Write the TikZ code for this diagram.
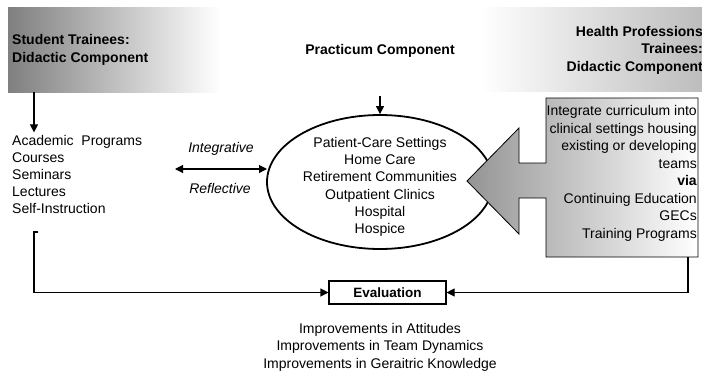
\documentclass[tikz,border=0pt]{standalone}
\usepackage{fontspec}
\setmainfont{Liberation Sans}
\usetikzlibrary{arrows.meta,shapes.geometric}
\begin{document}
\begin{tikzpicture}[x=1pt,y=-1pt,
  txt/.style={inner sep=0pt, font=\fontsize{14}{17}\selectfont},
  bld/.style={inner sep=0pt, font=\fontsize{14}{17}\selectfont\bfseries},
  itl/.style={inner sep=0pt, font=\fontsize{14}{17}\selectfont\itshape},
  arr/.style={-{Triangle[length=8pt,width=8pt]}, line width=1.1pt},
  darr/.style={{Triangle[length=8pt,width=8pt]}-{Triangle[length=8pt,width=8pt]}, line width=1.1pt},
]
\useasboundingbox (0,0) rectangle (702,373);

% header bands
\node[inner sep=0, minimum width=212pt, minimum height=85pt, anchor=north west,
      left color=black!50, right color=white] (lband) at (8,7) {};
\node[inner sep=0, minimum width=222pt, minimum height=84pt, anchor=north west,
      left color=white, right color=black!26] (rband) at (480,7) {};

\node[bld, anchor=base west] (st1) at (12,44) {Student Trainees:};
\node[bld, anchor=base west] (st2) at (12,62.5) {Didactic Component};

\node[bld, anchor=base east] (hp1) at (703,36) {Health Professions};
\node[bld, anchor=base east] (hp2) at (703,53.5) {Trainees:};
\node[bld, anchor=base east] (hp3) at (703,71) {Didactic Component};

\node[bld, anchor=base] (prac) at (380,54) {Practicum Component};

% left list
\foreach \t [count=\i] in {Academic\ \ Programs, Courses, Seminars, Lectures, Self-Instruction}
  \node[txt, anchor=base west] (lst\i) at (12,{145.5+17*(\i-1)}) {\t};

% ellipse
\node[draw, ellipse, line width=1.8pt, minimum width=226pt, minimum height=134pt, inner sep=0] (ell) at (380,182) {};
\foreach \t [count=\i] in {Patient-Care Settings, Home Care, Retirement Communities, Outpatient Clinics, Hospital, Hospice}
  \node[txt, anchor=base] (pc\i) at (380,{147.3+17.3*(\i-1)}) {\t};

% big arrow + box
\shadedraw[line width=0.8pt, left color=black!42, right color=white]
  (546,98) -- (698,98) -- (698,257) -- (546,257) -- (546,198) -- (519,198)
  -- (519,234) -- (467,181) -- (519,128) -- (519,163) -- (546,163) -- cycle;
\coordinate (rstub) at (688,257);
\foreach \t [count=\i] in {Integrate curriculum into, clinical settings housing, existing or developing, teams, \textbf{via}, Continuing Education, GECs, Training Programs}
  \node[txt, anchor=base east] (hb\i) at (697,{115.5+17.5*(\i-1)}) {\t};

% integrative / reflective
\node[itl, anchor=base] (integ) at (221,152.7) {Integrative};
\node[itl, anchor=base] (refl) at (220,193.3) {Reflective};
\coordinate (da) at (175,169);
\coordinate (db) at (267,169);
\draw[darr] (da) -- (db);

% arrows from headers
\draw[arr] (lband.south west) ++(26,0) -- ++(0,40);
\draw[arr] (ell.north) ++(0,-18) -- (ell.north);

% evaluation
\node[draw, line width=1.1pt, minimum width=117pt, minimum height=23pt, inner sep=0,
      font=\fontsize{13.5}{16}\selectfont\bfseries] (eval) at (387.5,292.5) {Evaluation};
\coordinate (lstub) at (38,232);
\draw[arr] (lstub) -- ++(-4,0) |- (eval.west);
\draw[arr] (rstub) |- (eval.east);

% outcomes
\node[txt, anchor=base] (o1) at (380,333) {Improvements in Attitudes};
\node[txt, anchor=base] (o2) at (380,350.5) {Improvements in Team Dynamics};
\node[txt, anchor=base] (o3) at (380,368) {Improvements in Geraitric Knowledge};
\end{tikzpicture}
\end{document}
